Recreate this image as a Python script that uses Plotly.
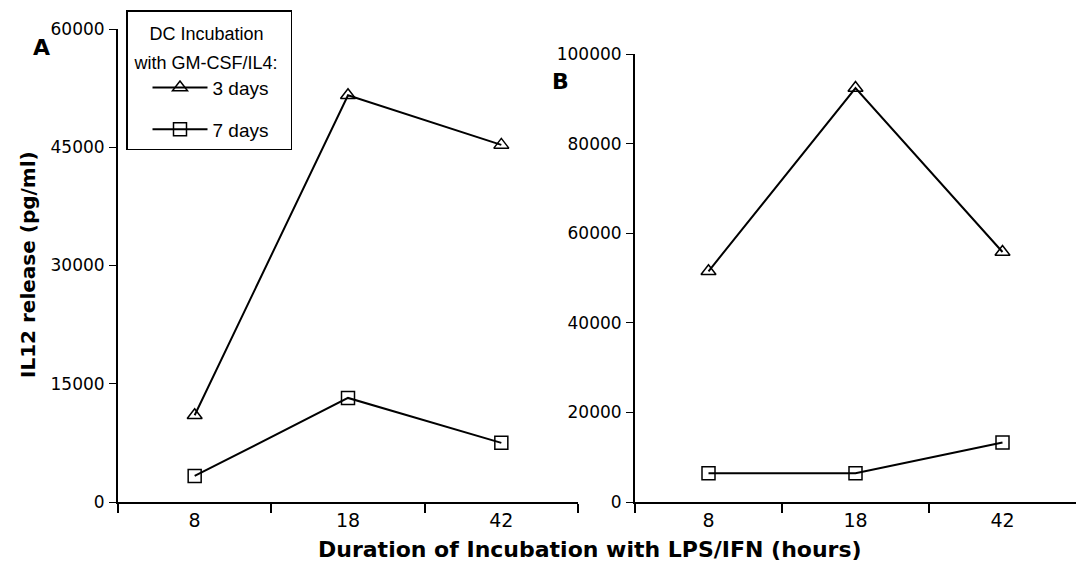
import plotly.graph_objects as go

categories = ["8", "18", "42"]
a_3days = [11000, 51600, 45300]
a_7days = [3300, 13200, 7500]
b_3days = [51500, 92400, 55800]
b_7days = [6400, 6400, 13300]

a_ticks = [0, 15000, 30000, 45000, 60000]
b_ticks = [0, 20000, 40000, 60000, 80000, 100000]

W, H = 1078, 566
FONT = "Liberation Sans, Arial, Helvetica, sans-serif"
TICKF = "DejaVu Sans, Liberation Sans, Arial, sans-serif"
BOLD = "DejaVu Sans, Liberation Sans, Arial, sans-serif"

fig = go.Figure()

line_style = dict(color="black", width=2)
tri = dict(symbol="triangle-up-open", size=13, color="black", line=dict(color="black", width=1.5))
sq = dict(symbol="square-open", size=13, color="black", line=dict(color="black", width=1.5))

fig.add_trace(go.Scatter(x=categories, y=a_3days, mode="lines+markers", name="3 days",
                         line=line_style, marker=tri, xaxis="x", yaxis="y",
                         legendgroup="g3", cliponaxis=False))
fig.add_trace(go.Scatter(x=categories, y=a_7days, mode="lines+markers", name="7 days",
                         line=line_style, marker=sq, xaxis="x", yaxis="y",
                         legendgroup="g7", cliponaxis=False))
fig.add_trace(go.Scatter(x=categories, y=b_3days, mode="lines+markers", name="3 days",
                         line=line_style, marker=tri, xaxis="x2", yaxis="y2",
                         showlegend=False, cliponaxis=False))
fig.add_trace(go.Scatter(x=categories, y=b_7days, mode="lines+markers", name="7 days",
                         line=line_style, marker=sq, xaxis="x2", yaxis="y2",
                         showlegend=False, cliponaxis=False))

def px_x(p):
    return p / W

def px_y(p):
    return 1 - p / H

xcommon = dict(type="category", range=[-0.5, 2.5], showline=True, linecolor="black", linewidth=2,
               ticks="outside", tickson="boundaries", ticklen=9, tickwidth=1.5, tickcolor="black",
               showgrid=False, zeroline=False, automargin=False,
               tickfont=dict(family=TICKF, size=19, color="black"))
ycommon = dict(showline=True, linecolor="black", linewidth=2, ticks="outside", ticklen=7,
               tickwidth=1.2, tickcolor="black", showgrid=False, zeroline=False, automargin=False,
               tickfont=dict(family=TICKF, size=17, color="black"), ticklabelstandoff=1)

title_txt = ("<span style='font-size:18px'>&nbsp;&nbsp;&nbsp;&nbsp;DC Incubation</span><br>"
             "<span style='font-size:18px'>&nbsp;with GM-CSF/IL4:&nbsp;&nbsp;</span>")

fig.update_layout(
    width=W, height=H,
    margin=dict(l=0, r=0, t=0, b=0),
    paper_bgcolor="white", plot_bgcolor="white",
    xaxis=dict(domain=[px_x(118), px_x(578)], anchor="y", **xcommon),
    yaxis=dict(domain=[px_y(502), px_y(29)], anchor="x", range=[0, 60000],
               tickvals=a_ticks, ticktext=[str(v) for v in a_ticks], **ycommon),
    xaxis2=dict(domain=[px_x(635), px_x(1076)], anchor="y2", **xcommon),
    yaxis2=dict(domain=[px_y(502), px_y(54)], anchor="x2", range=[0, 100000],
                tickvals=b_ticks, ticktext=[str(v) for v in b_ticks], **ycommon),
    showlegend=True,
    legend=dict(
        x=px_x(126), y=px_y(10), xanchor="left", yanchor="top",
        bgcolor="white", bordercolor="black", borderwidth=1.5,
        font=dict(family=FONT, size=19, color="black"),
        title=dict(text=title_txt, side="top",
                   font=dict(family=FONT, size=22, color="black")),
        traceorder="grouped", tracegroupgap=14, indentation=20, itemwidth=55,
    ),
    annotations=[
        dict(text="<b>IL12 release (pg/ml)</b>", x=px_x(28), y=px_y(265), xref="paper", yref="paper",
             textangle=-90, showarrow=False, font=dict(family=BOLD, size=20, color="black"),
             xanchor="center", yanchor="middle"),
        dict(text="<b>Duration of Incubation with LPS/IFN (hours)</b>", x=px_x(590), y=px_y(549),
             xref="paper", yref="paper", showarrow=False,
             font=dict(family=BOLD, size=22, color="black"), xanchor="center", yanchor="middle"),
        dict(text="<b>A</b>", x=px_x(41), y=px_y(47), xref="paper", yref="paper", showarrow=False,
             font=dict(family=BOLD, size=22, color="black"), xanchor="center", yanchor="middle"),
        dict(text="<b>B</b>", x=px_x(560), y=px_y(81), xref="paper", yref="paper", showarrow=False,
             font=dict(family=BOLD, size=22, color="black"), xanchor="center", yanchor="middle"),
    ],
)

fig.write_html("out.html")
